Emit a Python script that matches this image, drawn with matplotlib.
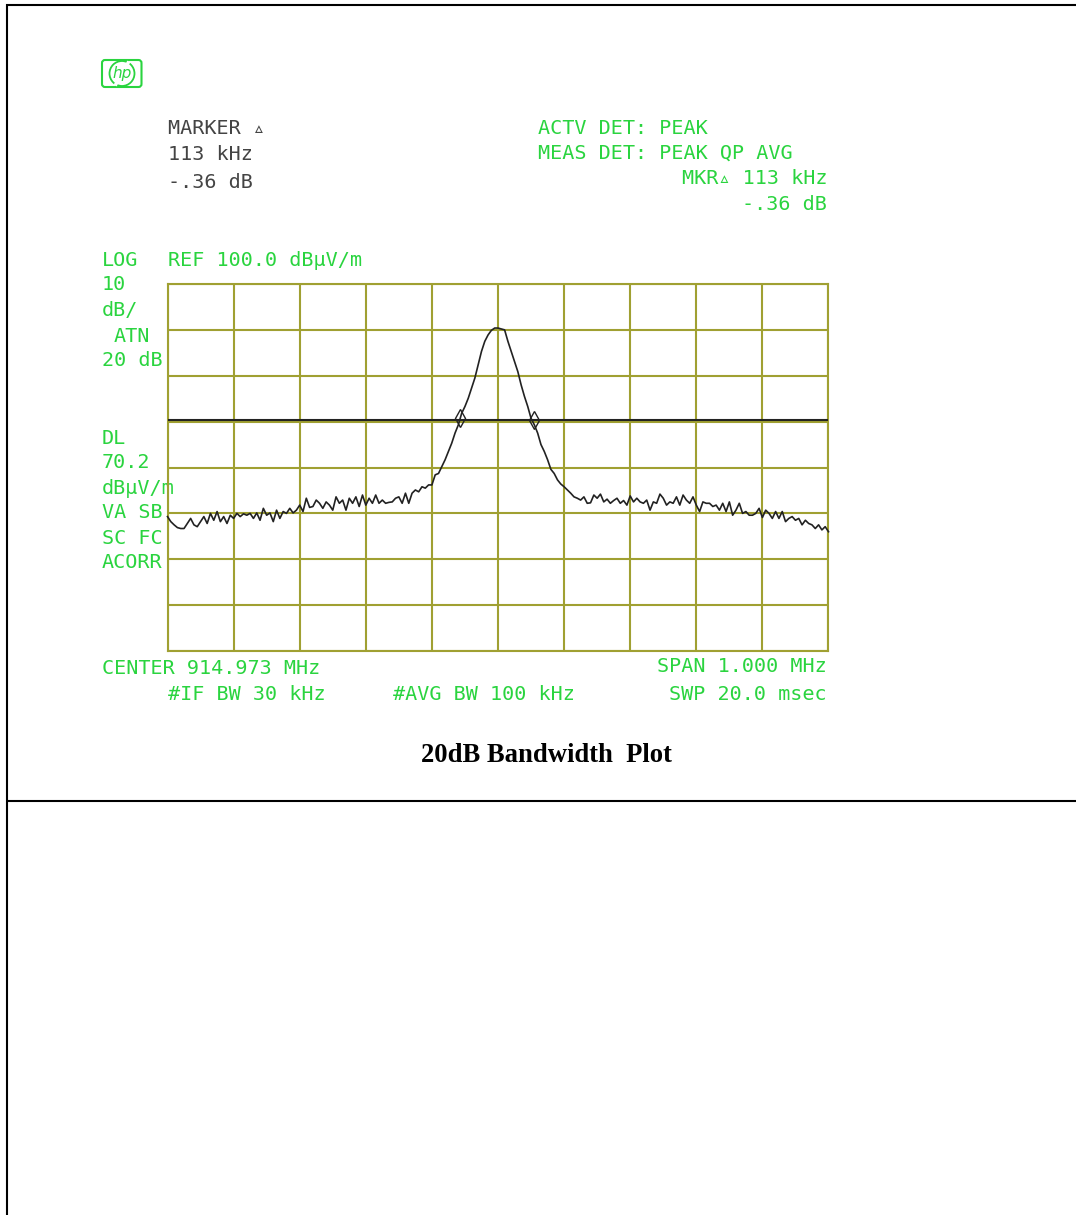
#!/usr/bin/env python3
import numpy as np
import matplotlib
matplotlib.use('Agg')
import matplotlib.pyplot as plt
from matplotlib.patches import Circle, FancyBboxPatch

W, H = 1076, 1215

# sweep, kHz from center frequency, 5 kHz steps
freq_khz = np.arange(-500, 505, 5)

# trace in dBuV/m
noise_left = [
    49.3, 48.2, 47.5, 46.9, 46.7, 46.7, 47.8, 48.9, 47.5, 47.1,
    48.2, 49.3, 47.8, 50.0, 48.5, 50.4, 48.2, 49.3, 47.8, 49.6,
    48.9, 50.0, 49.3, 49.9, 49.6, 50.0, 48.9, 50.1, 48.5, 51.1,
    49.6, 50.1, 48.2, 50.7, 48.9, 50.4, 50.0, 51.1, 50.1, 50.7,
    51.8, 50.4, 53.3, 51.3, 51.5, 52.9, 52.2, 51.1, 52.5, 51.8,
    50.7, 53.6, 52.2, 52.9, 50.7, 53.3, 52.2, 53.6, 51.5, 54.0,
    51.8, 53.3, 52.2, 54.0, 52.2, 52.9, 52.2, 52.4, 52.5, 53.3,
    53.6, 52.2, 54.4, 52.2, 54.4, 55.1, 54.7, 55.8, 55.5, 56.2,
]
main_lobe = [
    56.2, 58.4, 58.7, 60.2, 61.7, 63.5, 65.3, 67.5, 69.3, 71.8,
    73.3, 75.1, 77.3, 79.5, 82.4, 85.3, 87.5, 88.9, 89.9, 90.4,
    90.4, 90.2, 90.0, 87.5, 85.3, 83.1, 80.9, 78.0, 75.5, 73.3,
    70.7, 69.3, 67.5, 65.0, 63.5, 61.7, 59.6, 58.7, 57.3, 56.4,
    55.8, 55.1, 54.4,
]
noise_right = [
    53.6, 53.3, 52.9, 53.6, 52.2, 52.3, 54.0, 53.3, 54.2, 52.5,
    53.1, 52.2, 52.8, 53.3,
    52.2, 52.8, 51.8, 53.8, 52.5, 53.3, 52.5, 52.2, 52.9, 50.7,
    52.5, 52.2, 54.2, 53.3, 51.8, 52.5, 52.2, 53.6, 51.8, 54.0,
    52.9, 52.2, 53.6, 51.8, 50.4, 52.5, 52.2, 52.2, 51.5, 51.8,
    50.7, 52.2, 50.4, 52.5, 49.6, 50.7, 52.2, 50.0, 50.4, 49.6,
    49.6, 50.0, 51.1, 49.1, 50.7, 50.0, 48.9, 50.4, 48.9, 50.4,
    48.2, 48.9, 49.3, 48.5, 48.9, 47.5, 48.5, 47.8, 47.5, 46.7,
    47.5, 46.4, 47.1, 46.0,
]
trace_db = np.array(noise_left + main_lobe + noise_right)

marker_khz = [-57.5, 54.5]
marker_db = [70.7, 70.4]
display_line_db = 70.4

freq_ticks = np.arange(-500, 600, 100)
level_ticks = np.arange(20, 110, 10)

GREEN = '#2ad43f'
OLIVE = '#a0a032'
DARK = '#444444'
MONO = ['DejaVu Sans Mono']
FS = 14.5

# (x px, y px, text, align)
green_labels = [
    (538, 128, 'ACTV DET: PEAK', 'left'),
    (538, 153, 'MEAS DET: PEAK QP AVG', 'left'),
    (827, 179, 'MKR\u25b5 113 kHz', 'right'),
    (827, 204, '-.36 dB', 'right'),
    (102, 261, 'LOG', 'left'),
    (168, 261, 'REF 100.0 dB\u00b5V/m', 'left'),
    (102, 285, '10', 'left'),
    (102, 311, 'dB/', 'left'),
    (114, 336, 'ATN', 'left'),
    (102, 361, '20 dB', 'left'),
    (102, 439, 'DL', 'left'),
    (102, 462, '70.2', 'left'),
    (102, 488, 'dB\u00b5V/m', 'left'),
    (102, 512, 'VA SB', 'left'),
    (102, 538, 'SC FC', 'left'),
    (102, 562, 'ACORR', 'left'),
    (102, 668, 'CENTER 914.973 MHz', 'left'),
    (168, 695, '#IF BW 30 kHz', 'left'),
    (393, 695, '#AVG BW 100 kHz', 'left'),
    (827, 666, 'SPAN 1.000 MHz', 'right'),
    (827, 695, 'SWP 20.0 msec', 'right'),
]
dark_labels = [
    (168, 128, 'MARKER \u25b5', 'left'),
    (168, 154, '113 kHz', 'left'),
    (168, 182, '-.36 dB', 'left'),
]

fig = plt.figure(figsize=(W / 100, H / 100), dpi=100, facecolor='white')

# page layer in pixel coordinates
page = fig.add_axes([0, 0, 1, 1])
page.set_xlim(0, W)
page.set_ylim(H, 0)
page.axis('off')
page.plot([6, W], [5, 5], color='black', lw=1.5, solid_capstyle='butt')
page.plot([6, W], [801, 801], color='black', lw=1.5, solid_capstyle='butt')
page.plot([7, 7], [4, H], color='black', lw=1.5, solid_capstyle='butt')

for x, y, s, ha in green_labels:
    page.text(x, y, s, color=GREEN, family=MONO, fontsize=FS, ha=ha, va='center')
for x, y, s, ha in dark_labels:
    page.text(x, y, s, color=DARK, family=MONO, fontsize=FS, ha=ha, va='center')
page.text(546, 756, '20dB Bandwidth  Plot', family='Liberation Serif',
          weight='bold', fontsize=19.2, ha='center', va='center', color='black')

# hp logo
page.add_patch(FancyBboxPatch((102, 60), 39.5, 27, boxstyle='round,pad=0,rounding_size=3',
                              fc='white', ec=GREEN, lw=1.5))
page.add_patch(Circle((122, 73.5), 12.5, fc='white', ec=GREEN, lw=1.3))
page.plot([116, 128], [84, 63], color='white', lw=2.5)
page.text(122, 73.5, 'hp', color=GREEN, fontsize=11, style='italic',
          ha='center', va='center')

# analyzer screen
ax = fig.add_axes([167.5 / W, 1 - 651 / H, (828.5 - 167.5) / W, (651 - 284) / H])
ax.patch.set_alpha(0)
ax.set_xlim(-500, 500)
ax.set_ylim(20, 100)
ax.set_xticks(freq_ticks)
ax.set_yticks(level_ticks)
ax.grid(True, color=OLIVE, lw=1.5)
ax.tick_params(length=0, labelbottom=False, labelleft=False)
for spine in ax.spines.values():
    spine.set_color(OLIVE)
    spine.set_linewidth(1.5)
ax.axhline(display_line_db, color='#222222', lw=1.5, zorder=3)
ax.plot(freq_khz, trace_db, color='#222222', lw=1.2, zorder=4, clip_on=False)
ax.plot(marker_khz, marker_db, ls='none', marker='d', ms=9, mfc='none',
        mec='#222222', mew=1.0, zorder=5)

fig.savefig('out.png', dpi=100)
